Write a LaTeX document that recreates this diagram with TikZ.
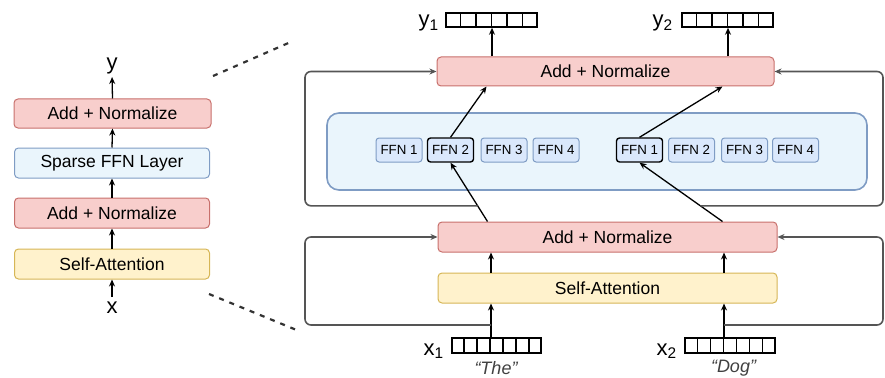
\documentclass[tikz,border=0pt]{standalone}
\usepackage{fontspec}
\setmainfont{Liberation Sans}
\usetikzlibrary{arrows.meta,calc}
\definecolor{redf}{HTML}{F8CECC}
\definecolor{redd}{HTML}{C8706C}
\definecolor{yelf}{HTML}{FFF2CC}
\definecolor{yeld}{HTML}{D6B656}
\definecolor{bluf}{HTML}{EAF5FC}
\definecolor{blud}{HTML}{7F9CC4}
\definecolor{ffnf}{HTML}{DAE8FC}
\definecolor{framec}{HTML}{555555}
\begin{document}
\begin{tikzpicture}[x=1pt,y=-1pt,
  box/.style={draw, rounded corners=4, line width=1, inner sep=0, font=\fontsize{17.5}{19}\selectfont},
  redbox/.style={box, fill=redf, draw=redd},
  yelbox/.style={box, fill=yelf, draw=yeld},
  blubox/.style={box, fill=bluf, draw=blud},
  ffnbox/.style={draw=blud, fill=ffnf, rounded corners=3, line width=1, inner sep=0, minimum width=46, minimum height=24, font=\fontsize{13.3}{15}\selectfont},
  ffnsel/.style={ffnbox, draw=black, line width=1.4},
  vec/.style={draw=black, line width=1.5, inner sep=0, minimum height=14},
  vecline/.style={black, line width=1.5},
  arr/.style={-{Stealth[length=7,width=6]}, black, line width=1.3},
  frame/.style={framec, line width=1.6, rounded corners=6},
  lbl/.style={inner sep=0, font=\fontsize{22}{24}\selectfont},
  word/.style={inner sep=0, font=\fontsize{18}{20}\selectfont\itshape, text=black!75}
]
\useasboundingbox (0,0) rectangle (885,377);

% ---------- left column ----------
\node[redbox, minimum width=197, minimum height=29] (lan2) at (112.5,113.5) {Add + Normalize};
\node[blubox, minimum width=195, minimum height=30] (lsf) at (112,163) {Sparse FFN Layer};
\node[redbox, minimum width=195, minimum height=30] (lan1) at (112,213) {Add + Normalize};
\node[yelbox, minimum width=195, minimum height=30] (lsa) at (112,264) {Self-Attention};
\node[lbl, anchor=south] (ly) at (112,74) {y};
\node[lbl, anchor=north] (lx) at (112,302) {x};
\draw[arr, shorten >=3] (lan2.north) -- (ly.south);
\draw[arr] (lsf.north) -- (lan2.south);
\draw[arr] (lan1.north) -- (lsf.south);
\draw[arr] (lsa.north) -- (lan1.south);
\draw[arr, shorten <=5] (lx.north) -- (lsa.south);

% dashed zoom lines
\draw[black!80, line width=2.2, dash pattern=on 5 off 6] (213,76) -- (293,41);
\draw[black!80, line width=2.2, dash pattern=on 5 off 6] (209,294) -- (299,331);

% ---------- right part ----------
\node[blubox, draw=blud, line width=1.6, rounded corners=12, minimum width=540, minimum height=77] (cont) at (597,151.5) {};
\node[redbox, minimum width=337, minimum height=29] (tan) at (605.5,71.5) {Add + Normalize};
\node[redbox, minimum width=339, minimum height=30] (ban) at (607.5,237) {Add + Normalize};
\node[yelbox, minimum width=339, minimum height=30] (sa) at (607.5,288) {Self-Attention};

\node[ffnbox] (fa1) at (399,150) {FFN 1};
\node[ffnsel] (fa2) at (450.5,150) {FFN 2};
\node[ffnbox] (fa3) at (504,150) {FFN 3};
\node[ffnbox] (fa4) at (556,150) {FFN 4};
\node[ffnsel] (fb1) at (639.5,150) {FFN 1};
\node[ffnbox] (fb2) at (691.5,150) {FFN 2};
\node[ffnbox] (fb3) at (744.5,150) {FFN 3};
\node[ffnbox] (fb4) at (795.5,150) {FFN 4};

% vectors
\node[vec, minimum width=91] (y1v) at (491.5,20) {};
\node[vec, minimum width=91] (y2v) at (727.5,20) {};
\node[vec, minimum width=89, minimum height=15] (x1v) at (496.5,345.5) {};
\node[vec, minimum width=90, minimum height=15] (x2v) at (730,345.5) {};
\foreach \v/\k in {y1v/6,y2v/6,x1v/7,x2v/7}{
  \pgfmathtruncatemacro\km{\k-1}
  \foreach \i in {1,...,\km}
    \draw[vecline] ($(\v.north west)!\i/\k!(\v.north east)$) -- ($(\v.south west)!\i/\k!(\v.south east)$);
}
\node[lbl, anchor=base east] (y1l) at (439,27) {y\textsubscript{1}};
\node[lbl, anchor=base east] (y2l) at (673,27) {y\textsubscript{2}};
\node[lbl, anchor=base east] (x1l) at (444,355) {x\textsubscript{1}};
\node[lbl, anchor=base east] (x2l) at (677,355) {x\textsubscript{2}};
\node[word] (w1) at (496,368) {“The”};
\node[word] (w2) at (733.5,368) {“Dog”};

% helper coordinates
\coordinate (L) at (305,0);
\coordinate (R) at (883,0);
\coordinate (j1) at (491,325);
\coordinate (j2) at (724,325);

% input arrows
\draw[arr] (x1v.north -| j1) -- (sa.south -| j1);
\draw[arr] (x2v.north -| j2) -- (sa.south -| j2);
% SA -> AddNorm
\draw[arr] (sa.north -| j1) -- (ban.south -| j1);
\draw[arr] (sa.north -| j2) -- (ban.south -| j2);

% AddNorm -> selected experts -> AddNorm
\coordinate (b1) at ([xshift=50]ban.north west);
\coordinate (b2) at ([xshift=285]ban.north west);
\draw[arr] (b1) -- (fa2.south);
\draw[arr] (b2) -- (fb1.south);
\draw[arr] (fa2.north) -- ([xshift=50]tan.south west);
\draw[arr] (fb1.north) -- ([xshift=286]tan.south west);

% outputs
\coordinate (o1) at (492,0);
\coordinate (o2) at (728,0);
\draw[arr] (tan.north -| o1) -- (y1v.south -| o1);
\draw[arr] (tan.north -| o2) -- (y2v.south -| o2);

% residual frames
\coordinate (r1) at ($(b1)!0.267!(fa2.south)$);
\coordinate (r2) at ($(b2)!0.267!(fb1.south)$);
\draw[frame, -{Stealth[length=7,width=6]}] (r1) -- (L |- r1) -- (L |- tan.west) -- (tan.west);
\draw[frame, -{Stealth[length=7,width=6]}] (r2) -- (R |- r2) -- (R |- tan.east) -- (tan.east);
\draw[frame, -{Stealth[length=7,width=6]}] (j1) -- (L |- j1) -- (L |- ban.west) -- (ban.west);
\draw[frame, -{Stealth[length=7,width=6]}] (j2) -- (R |- j2) -- (R |- ban.east) -- (ban.east);
\end{tikzpicture}
\end{document}
